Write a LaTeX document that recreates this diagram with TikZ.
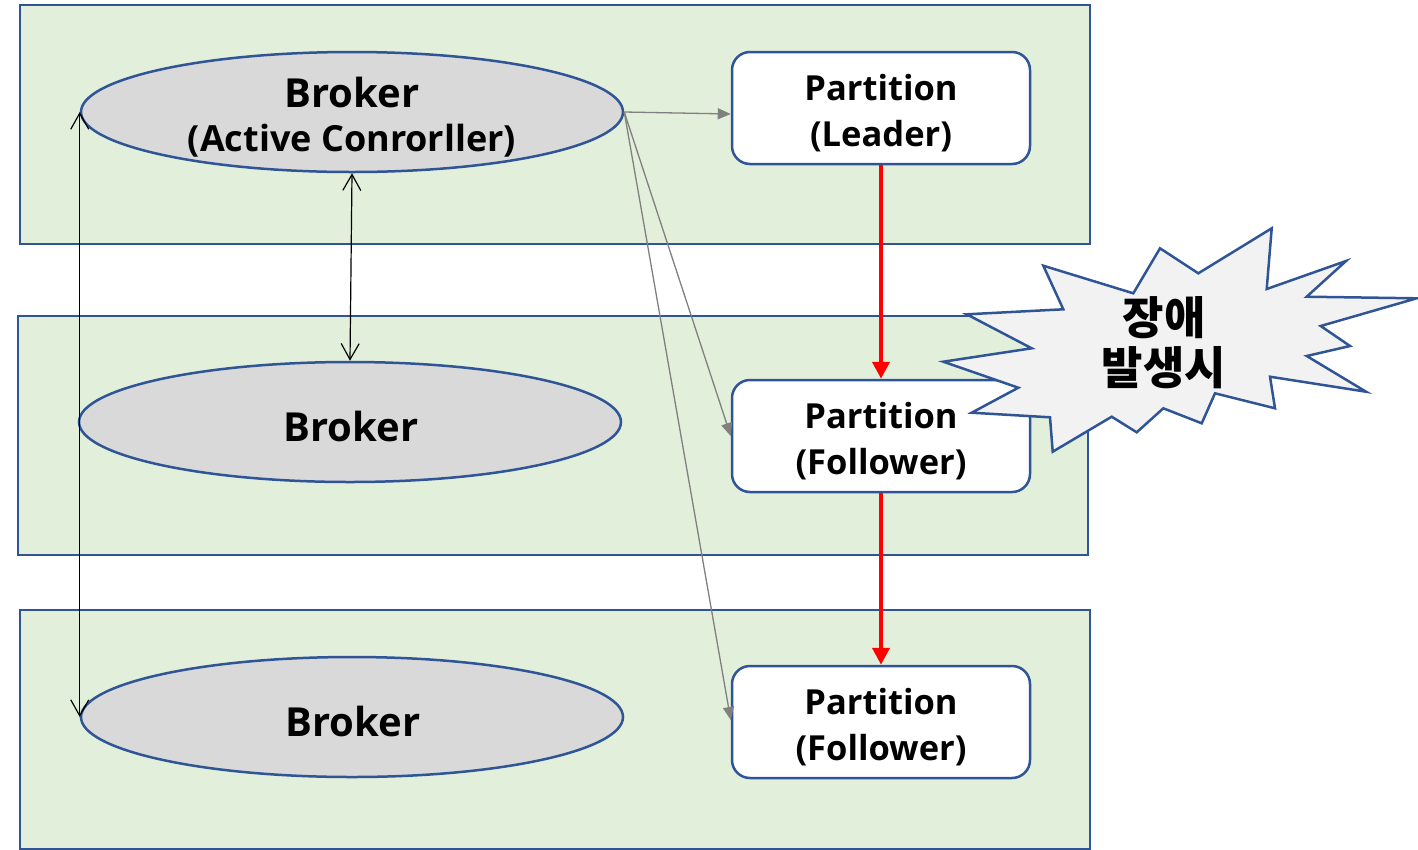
\documentclass[tikz,border=0pt]{standalone}
\usepackage{fontspec}
\setmainfont{Open Sans}
\newfontfamily\krfont{Noto Sans CJK KR}
\usetikzlibrary{arrows.meta,shapes.geometric}

\definecolor{panelfill}{HTML}{E2EFDA}
\definecolor{edgeblue}{HTML}{2F5597}
\definecolor{brokerfill}{HTML}{D9D9D9}
\definecolor{burstfill}{HTML}{F2F2F2}
\definecolor{linkgray}{HTML}{808080}

\tikzset{
  panel/.style={draw=edgeblue, fill=panelfill, line width=2.5pt},
  broker/.style={ellipse, draw=edgeblue, fill=brokerfill, line width=2.5pt,
    minimum width=542pt, minimum height=120pt, inner sep=0pt},
  brokertext/.style={align=center, inner sep=0pt,
    font=\bfseries\fontsize{40}{44}\selectfont},
  partbox/.style={rectangle, rounded corners=18pt, draw=edgeblue, fill=white,
    line width=2.5pt, minimum width=298pt, minimum height=112pt, inner sep=0pt},
  parttext/.style={align=center, inner sep=0pt,
    font=\bfseries\fontsize{34.5}{46}\selectfont},
  replica/.style={draw=red, line width=4pt, -{Triangle[length=17pt,width=17pt]}},
  assign/.style={draw=linkgray, line width=1.3pt, -{Triangle[length=13pt,width=11pt]}},
  control/.style={draw=black, line width=1.2pt,
    {Straight Barb[length=16pt,width=18pt]}-{Straight Barb[length=16pt,width=18pt]}},
  burst/.style={draw=edgeblue, fill=burstfill, line width=2.5pt, line join=miter}
}

\begin{document}
\begin{tikzpicture}[x=1pt, y=-1pt]
  \useasboundingbox (0,0) rectangle (1418,849);

  % broker panels
  \draw[panel] (20,5) rectangle (1090,244);
  \draw[panel] (18,316) rectangle (1088,555);
  \draw[panel] (20,610) rectangle (1090,849);

  % brokers
  \node[broker] (b1) at (352,112) {};
  \node[broker] (b2) at (350,422) {};
  \node[broker] (b3) at (352,717) {};
  \node[brokertext] (b1t) at (352,117)
    {Broker\\{\fontsize{36}{44}\selectfont (Active Conrorller)}};
  \node[brokertext] (b2t) at (351,426) {Broker};
  \node[brokertext] (b3t) at (353,721) {Broker};

  % partitions
  \node[partbox] (p1) at (881,108) {};
  \node[partbox] (p2) at (881,436) {};
  \node[partbox] (p3) at (881,722) {};
  \node[parttext] (p1t) at (881,113) {Partition\\(Leader)};
  \node[parttext] (p2t) at (881,441) {Partition\\(Follower)};
  \node[parttext] (p3t) at (881,727) {Partition\\(Follower)};

  % controller to partitions
  \draw[assign] (b1.east) -- ([yshift=-6pt]p1.west);
  \draw[assign] (b1.east) -- (p2.west);
  \draw[assign] (b1.east) -- ([yshift=2pt]p3.west);

  % controller to brokers
  \draw[control] (b1.south) -- (b2.north);
  \draw[control] (b1.west) -- (b3.west);

  % replication
  \draw[replica] (p1.south) -- (p2.north);
  \draw[replica] (p2.south) -- (p3.north);

  % failure burst
  \draw[burst] (966.7,314.3) -- (1063.3,309.3) -- (1043.3,265.7) -- (1133.3,293.3)
    -- (1160,248.3) -- (1198.3,273.3) -- (1271.7,228.3) -- (1266.7,289)
    -- (1346,261) -- (1306.7,296.7) -- (1416.7,298.3) -- (1320.7,326)
    -- (1350,346) -- (1306.7,356) -- (1366,391.7) -- (1270,376.7)
    -- (1275,408.3) -- (1215,393.3) -- (1201.7,423.3) -- (1163.3,408.3)
    -- (1136.7,432.3) -- (1111.7,416.7) -- (1052.7,451.7) -- (1050,417.3)
    -- (971.7,412.7) -- (1018.3,387.7) -- (943.3,361.7) -- (1031.7,348.3)
    -- cycle;
  \node[align=center, inner sep=0pt, font=\krfont\bfseries\fontsize{45}{50}\selectfont]
    (fail) at (1164,343) {장애\\발생시};
\end{tikzpicture}
\end{document}
